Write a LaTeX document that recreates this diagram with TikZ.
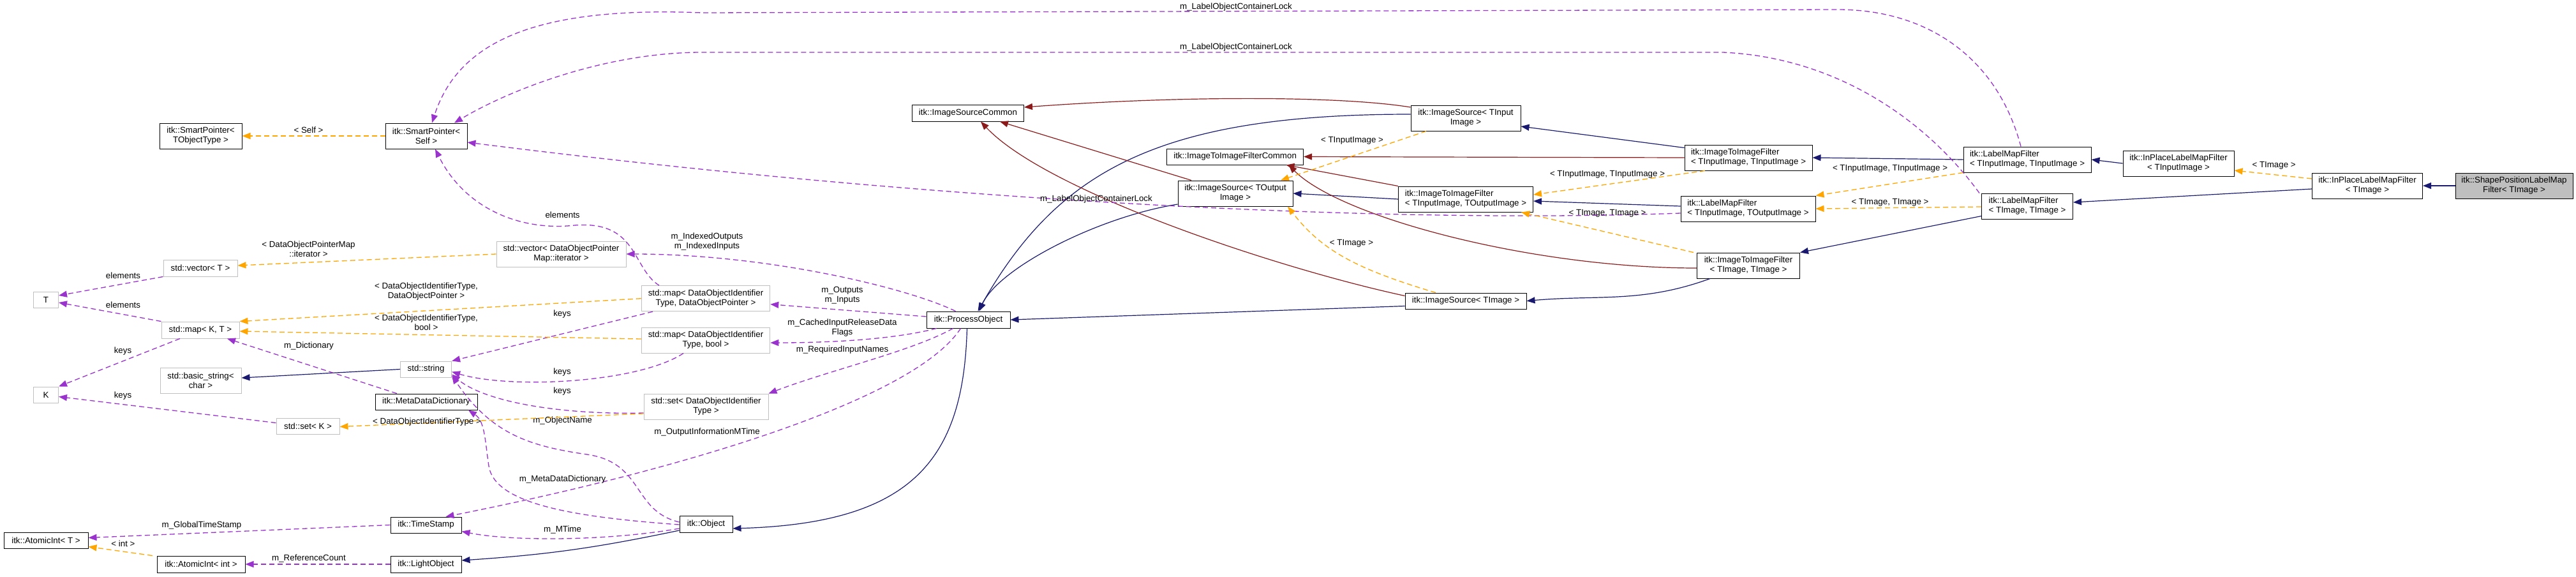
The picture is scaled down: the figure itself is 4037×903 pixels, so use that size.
\documentclass[tikz,border=0pt]{standalone}
\usepackage{fontspec}
\setmainfont{Liberation Sans}
\usetikzlibrary{arrows.meta,positioning,calc}
\definecolor{pubblue}{RGB}{25,25,112}
\definecolor{protred}{RGB}{139,26,26}
\definecolor{usepurple}{RGB}{154,50,205}
\definecolor{tmplorange}{RGB}{255,165,0}
\definecolor{stdgray}{RGB}{191,191,191}
\definecolor{selgray}{RGB}{191,191,191}
\newcommand{\dxfont}{\fontsize{13.33}{15}\selectfont}
\tikzset{
  basebox/.style={rectangle,draw=black,fill=white,line width=1pt,align=center,inner sep=2pt,font=\dxfont,minimum height=26pt},
  clsnode/.style={basebox},
  stdnode/.style={basebox,draw=stdgray},
  selnode/.style={basebox,fill=selgray},
  twoline/.style={minimum height=40pt},
  edgelbl/.style={font=\dxfont,align=center,inner sep=0pt,text=black},
  pubarr/.style={->,>={Triangle[length=13pt,width=10pt]},line width=1.2pt,color=pubblue},
  protarr/.style={->,>={Triangle[length=13pt,width=10pt]},line width=1.2pt,color=protred},
  usearr/.style={->,>={Triangle[length=13pt,width=10pt]},line width=1.3pt,color=usepurple,dash pattern=on 8pt off 5pt},
  tmplarr/.style={->,>={Triangle[length=13pt,width=10pt]},line width=1.3pt,color=tmplorange,dash pattern=on 8pt off 5pt}
}
\begin{document}
\begin{tikzpicture}[x=1pt,y=-1pt]
  \useasboundingbox (0,0) rectangle (4037,903);
  % smart pointers and std containers
  \node[clsnode,twoline,minimum width=129pt] (spt) at (314.5,213) {itk::SmartPointer<\\TObjectType >};
  \node[clsnode,twoline,minimum width=128pt] (sps) at (668,213) {itk::SmartPointer<\\Self >};
  \node[stdnode,minimum width=116pt] (vecT) at (314,420) {std::vector< T >};
  \node[stdnode,minimum width=39pt,minimum height=25pt] (T) at (72,470) {T};
  \node[stdnode,minimum width=122pt] (mapKT) at (314,517) {std::map< K, T >};
  \node[stdnode,twoline,minimum width=127pt] (bstr) at (314.5,596) {std::basic\_string<\\char >};
  \node[stdnode,minimum width=39pt,minimum height=25pt] (K) at (72,618.5) {K};
  \node[stdnode,minimum width=99pt,minimum height=25pt] (setK) at (482.5,667.5) {std::set< K >};
  \node[stdnode,minimum width=80pt,minimum height=25pt] (str) at (667.6,578.5) {std::string};
  \node[clsnode,minimum width=160pt,minimum height=25pt] (mdd) at (668,629.5) {itk::MetaDataDictionary};
  \node[clsnode,minimum width=132pt,minimum height=25pt] (aiT) at (72,846.5) {itk::AtomicInt< T >};
  \node[clsnode,minimum width=138pt] (aiI) at (315,884) {itk::AtomicInt< int >};
  \node[clsnode,minimum width=111pt,minimum height=25pt] (ts) at (667.5,822.5) {itk::TimeStamp};
  \node[clsnode,minimum width=111pt] (lo) at (667.5,884) {itk::LightObject};
  \node[stdnode,twoline,minimum width=203pt] (vecDOPM) at (879.5,398) {std::vector< DataObjectPointer\\Map::iterator >};
  \node[stdnode,twoline,minimum width=201.5pt] (mapDP) at (1106,467.7) {std::map< DataObjectIdentifier\\Type, DataObjectPointer >};
  \node[stdnode,twoline,minimum width=201.5pt] (mapDB) at (1106,533) {std::map< DataObjectIdentifier\\Type, bool >};
  \node[stdnode,twoline,minimum width=195pt] (setDOI) at (1106.5,637) {std::set< DataObjectIdentifier\\Type >};
  \node[clsnode,minimum width=83pt] (obj) at (1106.5,821) {itk::Object};
  % pipeline classes
  \node[clsnode,minimum width=131pt] (po) at (1517.5,501) {itk::ProcessObject};
  \node[clsnode,minimum width=175pt] (isc) at (1517,177) {itk::ImageSourceCommon};
  \node[clsnode,minimum width=214pt,minimum height=25pt] (i2ic) at (1935.6,245.5) {itk::ImageToImageFilterCommon};
  \node[clsnode,twoline,minimum width=180pt] (isO) at (1936,303) {itk::ImageSource< TOutput\\Image >};
  \node[clsnode,twoline,minimum width=172pt] (isI) at (2297,185) {itk::ImageSource< TInput\\Image >};
  \node[clsnode,twoline,minimum width=211pt,align=left] (i2iIO) at (2297,312) {itk::ImageToImageFilter\\< TInputImage, TOutputImage >};
  \node[clsnode,minimum width=190pt,minimum height=25pt] (isT) at (2297,471.5) {itk::ImageSource< TImage >};
  \node[clsnode,twoline,minimum width=200pt,align=left] (i2iII) at (2740,247) {itk::ImageToImageFilter\\< TInputImage, TInputImage >};
  \node[clsnode,twoline,minimum width=211pt,align=left] (lmfIO) at (2739.5,327) {itk::LabelMapFilter\\< TInputImage, TOutputImage >};
  \node[clsnode,twoline,minimum width=161pt] (i2iTT) at (2740,416) {itk::ImageToImageFilter\\< TImage, TImage >};
  \node[clsnode,twoline,minimum width=200pt,align=left] (lmfII) at (3177,250) {itk::LabelMapFilter\\< TInputImage, TInputImage >};
  \node[clsnode,twoline,minimum width=143pt,align=left] (lmfTT) at (3177,323) {itk::LabelMapFilter\\< TImage, TImage >};
  \node[clsnode,twoline,minimum width=174pt] (ipI) at (3414,256) {itk::InPlaceLabelMapFilter\\< TInputImage >};
  \node[clsnode,twoline,minimum width=173pt] (ipT) at (3710,291) {itk::InPlaceLabelMapFilter\\< TImage >};
  \node[selnode,twoline,minimum width=184pt] (spl) at (3940,291) {itk::ShapePositionLabelMap\\Filter< TImage >};

  % public inheritance
  \draw[pubarr] (spl.west) -- (ipT.east);
  \draw[pubarr] ([yshift=-5pt]ipT.west) -- ([yshift=6pt]lmfTT.east);
  \draw[pubarr] (ipI.west) -- (lmfII.east);
  \draw[pubarr] (lmfII.west) -- (i2iII.east);
  \draw[pubarr] ([yshift=5pt]lmfTT.south west) -- (i2iTT.north east);
  \draw[pubarr] ([yshift=4pt]lmfIO.west) -- ([yshift=-3pt]i2iIO.east);
  \draw[pubarr] ([yshift=-5pt]i2iII.north west) -- ([yshift=-13pt]isI.east);
  \draw[pubarr] (i2iIO.west) -- (isO.east);
  \draw[pubarr] ([xshift=-60pt]i2iTT.south) to[out=200,in=5] (isT.east);
  \draw[pubarr] ([yshift=-8pt]isT.west) -- (po.east);
  \draw[pubarr] ([yshift=6pt]isI.west) .. controls (1811,179) and (1657,270) .. ([xshift=15pt]po.north);
  \draw[pubarr] ([yshift=-17pt]isO.west) .. controls (1720,340) and (1565,420) .. ([xshift=17pt]po.north);
  \draw[pubarr] ([xshift=-2pt]po.south) .. controls (1510,720) and (1430,820) .. ([yshift=-7pt]obj.east);
  \draw[pubarr] ([yshift=-10pt]obj.west) to[bend left=4] ([yshift=6pt]lo.east);
  \draw[pubarr] (str.west) -- ([yshift=4pt]bstr.east);

  % protected inheritance
  \draw[protarr] ([yshift=17pt]isI.west) .. controls (2100,150) and (1850,150) .. ([yshift=9pt]isc.east);
  \draw[protarr] ([xshift=-69pt]isO.north) -- ([xshift=50pt]isc.south);
  \draw[protarr] ([yshift=8pt]isT.west) .. controls (2000,420) and (1640,300) .. ([xshift=20pt]isc.south);
  \draw[protarr] (i2iII.west) -- (i2ic.east);
  \draw[protarr] (i2iIO.north west) -- ([xshift=80pt]i2ic.south);
  \draw[protarr] ([yshift=-4pt]i2iTT.west) .. controls (2400,420) and (2100,340) .. ([xshift=84pt]i2ic.south);

  % usage
  \draw[usearr] ([xshift=-10pt]lmfII.north) .. controls (3130,90) and (3020,15) .. (2880,15)
    -- (1100,20) .. controls (850,10) and (720,60) .. ([xshift=9pt]sps.north)
    node[edgelbl] at (1937,11) {m\_LabelObjectContainerLock};
  \draw[usearr] ([xshift=-75pt]lmfTT.north) .. controls (3020,190) and (2880,90) .. (2700,82)
    -- (1100,82) .. controls (950,82) and (800,140) .. ([xshift=44pt]sps.north)
    node[edgelbl] at (1937,74) {m\_LabelObjectContainerLock};
  \draw[usearr] ([yshift=-7pt]lmfIO.west) .. controls (2200,350) and (1500,320) .. ([yshift=-10pt]sps.east)
    node[edgelbl] at (1718,312) {m\_LabelObjectContainerLock};
  \draw[usearr] ([xshift=-20pt]po.north) .. controls (1420,450) and (1200,398) .. (vecDOPM.east)
    node[edgelbl] at (1108,379) {m\_IndexedOutputs\\m\_IndexedInputs};
  \draw[usearr] ([yshift=5pt]po.west) -- ([yshift=-9pt]mapDP.east)
    node[edgelbl] at (1320,463) {m\_Outputs\\m\_Inputs};
  \draw[usearr] ([xshift=-50pt]po.south) .. controls (1400,532) and (1300,537) .. ([yshift=-4pt]mapDB.east)
    node[edgelbl] at (1320,514) {m\_CachedInputReleaseData\\Flags};
  \draw[usearr] ([xshift=-24pt]po.south) .. controls (1430,550) and (1300,580) .. (setDOI.north east)
    node[edgelbl] at (1320,548) {m\_RequiredInputNames};
  \draw[usearr] ([xshift=-12pt]po.south) .. controls (1430,630) and (1050,740) .. ([xshift=31pt]ts.north)
    node[edgelbl] at (1108,677) {m\_OutputInformationMTime};
  \draw[usearr] ([xshift=-73pt]mapDP.north) .. controls (990,420) and (1000,345) .. (900,353)
    .. controls (820,362) and (730,330) .. ([xshift=14pt]sps.south)
    node[edgelbl] at (881.6,337) {elements};
  \draw[usearr] ([xshift=-83pt]mapDP.south) -- (str.north east) node[edgelbl] at (881,492) {keys};
  \draw[usearr] ([xshift=-35pt]mapDB.south) .. controls (1000,600) and (800,610) .. ([yshift=-4pt]str.east)
    node[edgelbl] at (881,583) {keys};
  \draw[usearr] ([yshift=-10pt]setDOI.west) .. controls (880,650) and (760,630) .. ([yshift=-8pt]str.east)
    node[edgelbl] at (881,613) {keys};
  \draw[usearr] ([yshift=3pt]obj.west) .. controls (990,800) and (1010,725) .. (920,712)
    .. controls (830,699) and (770,680) .. ([yshift=-10pt]str.east)
    node[edgelbl] at (881.6,659) {m\_ObjectName};
  \draw[usearr] ([yshift=-1pt]obj.west) .. controls (900,810) and (775,790) .. (766,730)
    .. controls (760,690) and (760,660) .. ([xshift=66pt]mdd.south)
    node[edgelbl] at (881.6,751) {m\_MetaDataDictionary};
  \draw[usearr] ([yshift=-7pt]obj.west) .. controls (950,848) and (800,848) .. ([yshift=-10pt]ts.east)
    node[edgelbl] at (881.6,830) {m\_MTime};
  \draw[usearr] ([xshift=-46pt]mdd.north) -- ([xshift=42pt]mapKT.south) node[edgelbl] at (484,542) {m\_Dictionary};
  \draw[usearr] (vecT.south west) -- ([yshift=7pt]T.east) node[edgelbl] at (193,432) {elements};
  \draw[usearr] (mapKT.north west) -- ([yshift=-4pt]T.east) node[edgelbl] at (193,478) {elements};
  \draw[usearr] ([xshift=-32pt]mapKT.south) -- (K.north east) node[edgelbl] at (192.5,550) {keys};
  \draw[usearr] ([yshift=5pt]setK.west) -- ([yshift=-3pt]K.east) node[edgelbl] at (192.5,620) {keys};
  \draw[usearr] (ts.west) -- ([yshift=4pt]aiT.east) node[edgelbl] at (316,823) {m\_GlobalTimeStamp};
  \draw[usearr] (lo.west) -- (aiI.east) node[edgelbl] at (484,875) {m\_ReferenceCount};

  % template instances
  \draw[tmplarr] (sps.west) -- (spt.east) node[edgelbl] at (483.5,204) {< Self >};
  \draw[tmplarr] (vecDOPM.west) -- ([yshift=4pt]vecT.east) node[edgelbl] at (483.5,390) {< DataObjectPointerMap\\::iterator >};
  \draw[tmplarr] (mapDP.west) -- (mapKT.north east) node[edgelbl] at (668,457) {< DataObjectIdentifierType,\\DataObjectPointer >};
  \draw[tmplarr] ([yshift=2pt]mapDB.west) -- ([yshift=-2pt]mapKT.east) node[edgelbl] at (668,505.5) {< DataObjectIdentifierType,\\bool >};
  \draw[tmplarr] ([yshift=-11pt]setDOI.west) -- ([yshift=-1pt]setK.east) node[edgelbl] at (669,661) {< DataObjectIdentifierType >};
  \draw[tmplarr] ([xshift=-76pt]aiI.north) -- ([yshift=-10pt]aiT.east) node[edgelbl] at (193,852) {< int >};
  \draw[tmplarr] ([xshift=-62pt]isI.south) -- ([xshift=71pt]isO.north) node[edgelbl] at (2119,220) {< TInputImage >};
  \draw[tmplarr] ([xshift=-68pt]i2iII.south) -- ([yshift=7pt]i2iIO.east) node[edgelbl] at (2519,273) {< TInputImage, TInputImage >};
  \draw[tmplarr] ([xshift=-86pt]i2iTT.north) -- ([xshift=87pt]i2iIO.south) node[edgelbl] at (2519,334) {< TImage, TImage >};
  \draw[tmplarr] ([xshift=-47pt]isT.north) .. controls (2120,420) and (2070,390) .. ([xshift=82pt]isO.south)
    node[edgelbl] at (2118,381) {< TImage >};
  \draw[tmplarr] (lmfII.south west) -- (lmfIO.north east) node[edgelbl] at (2962,264) {< TInputImage, TInputImage >};
  \draw[tmplarr] ([yshift=-1pt]lmfTT.west) -- (lmfIO.east) node[edgelbl] at (2962,317) {< TImage, TImage >};
  \draw[tmplarr] ([yshift=11pt]ipT.west) -- ([yshift=-11pt]ipI.east) node[edgelbl] at (3563.6,259) {< TImage >};
\end{tikzpicture}
\end{document}
